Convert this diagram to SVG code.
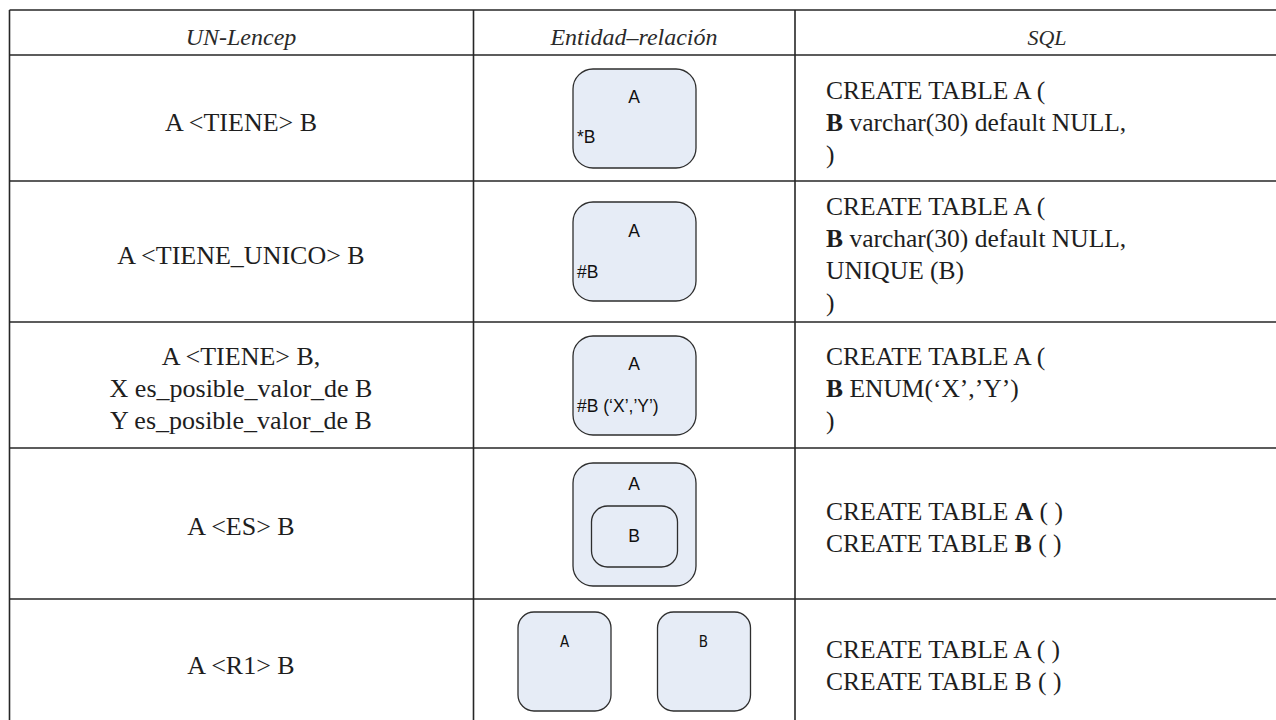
<svg xmlns="http://www.w3.org/2000/svg" width="1276" height="720" viewBox="0 0 1276 720">
<style>
.grid{stroke:#262626;stroke-width:1.6;fill:none}
.hd{font-family:"Liberation Serif","DejaVu Serif",serif;font-style:italic;font-size:24px;fill:#2a2a2a;text-anchor:middle}
.tx{font-family:"Liberation Serif","DejaVu Serif",serif;font-size:25.5px;fill:#1e1e1e}
.mid{text-anchor:middle;font-size:26px}
.b{font-weight:bold}
.ent{fill:#e6ecf6;stroke:#2e2e2e;stroke-width:1.3}
.el{font-family:"Liberation Sans",Arial,sans-serif;font-size:17.5px;fill:#111}
.el2{font-family:"DejaVu Sans Condensed","DejaVu Sans",sans-serif;font-size:15px;fill:#111;text-anchor:middle}
</style>
<rect width="1276" height="720" fill="#ffffff"/>
<g id="table-grid" class="grid">
<line x1="9.5" y1="10" x2="1276" y2="10"/>
<line x1="9.5" y1="55" x2="1276" y2="55"/>
<line x1="9.5" y1="181" x2="1276" y2="181"/>
<line x1="9.5" y1="322" x2="1276" y2="322"/>
<line x1="9.5" y1="448" x2="1276" y2="448"/>
<line x1="9.5" y1="599" x2="1276" y2="599"/>
<line x1="9.5" y1="10" x2="9.5" y2="720"/>
<line x1="473.5" y1="10" x2="473.5" y2="720"/>
<line x1="795" y1="10" x2="795" y2="720"/>
</g>
<g id="header">
<text class="hd" x="241" y="45">UN-Lencep</text>
<text class="hd" x="634" y="45">Entidad–relación</text>
<text class="hd" x="1047" y="45" style="font-size:22px">SQL</text>
</g>
<g id="row1">
<text class="tx mid" x="241" y="131">A &lt;TIENE&gt; B</text>
<g id="er1">
<rect class="ent" x="573" y="69" width="123" height="99" rx="20"/>
<text class="el" x="634" y="103" text-anchor="middle">A</text>
<text class="el" x="577" y="143">*B</text>
</g>
<text class="tx" x="826" y="99">CREATE TABLE A (</text>
<text class="tx" x="826" y="131"><tspan class="b">B</tspan> varchar(30) default NULL,</text>
<text class="tx" x="826" y="163">)</text>
</g>
<g id="row2">
<text class="tx mid" x="241" y="264">A &lt;TIENE_UNICO&gt; B</text>
<g id="er2">
<rect class="ent" x="573" y="202" width="123" height="99" rx="20"/>
<text class="el" x="634" y="237" text-anchor="middle">A</text>
<text class="el" x="577" y="278">#B</text>
</g>
<text class="tx" x="826" y="215">CREATE TABLE A (</text>
<text class="tx" x="826" y="247"><tspan class="b">B</tspan> varchar(30) default NULL,</text>
<text class="tx" x="826" y="279">UNIQUE (B)</text>
<text class="tx" x="826" y="311">)</text>
</g>
<g id="row3">
<text class="tx mid" x="241" y="365">A &lt;TIENE&gt; B,</text>
<text class="tx mid" x="241" y="397">X es_posible_valor_de B</text>
<text class="tx mid" x="241" y="429">Y es_posible_valor_de B</text>
<g id="er3">
<rect class="ent" x="573" y="336" width="123" height="99" rx="20"/>
<text class="el" x="634" y="370" text-anchor="middle">A</text>
<text class="el" x="577" y="412">#B (‘X’,’Y’)</text>
</g>
<text class="tx" x="826" y="365">CREATE TABLE A (</text>
<text class="tx" x="826" y="397"><tspan class="b">B</tspan> ENUM(‘X’,’Y’)</text>
<text class="tx" x="826" y="429">)</text>
</g>
<g id="row4">
<text class="tx mid" x="241" y="535">A &lt;ES&gt; B</text>
<g id="er4-A">
<rect class="ent" x="573" y="463" width="123" height="123" rx="20"/>
<text class="el" x="634" y="490" text-anchor="middle">A</text>
</g>
<g id="er4-B">
<rect class="ent" x="591.5" y="506" width="86" height="61" rx="16"/>
<text class="el" x="634" y="542" text-anchor="middle">B</text>
</g>
<text class="tx" x="826" y="520">CREATE TABLE <tspan class="b">A</tspan> ( )</text>
<text class="tx" x="826" y="552">CREATE TABLE <tspan class="b">B</tspan> ( )</text>
</g>
<g id="row5">
<text class="tx mid" x="241" y="674">A &lt;R1&gt; B</text>
<g id="er5-A">
<rect class="ent" x="518" y="612" width="93" height="99" rx="16"/>
<text class="el2" x="564.5" y="647">A</text>
</g>
<g id="er5-B">
<rect class="ent" x="657.5" y="612" width="93" height="99" rx="16"/>
<text class="el2" x="703.5" y="647">B</text>
</g>
<text class="tx" x="826" y="658">CREATE TABLE A ( )</text>
<text class="tx" x="826" y="690">CREATE TABLE B ( )</text>
</g>
<g id="connectors"></g>
</svg>
